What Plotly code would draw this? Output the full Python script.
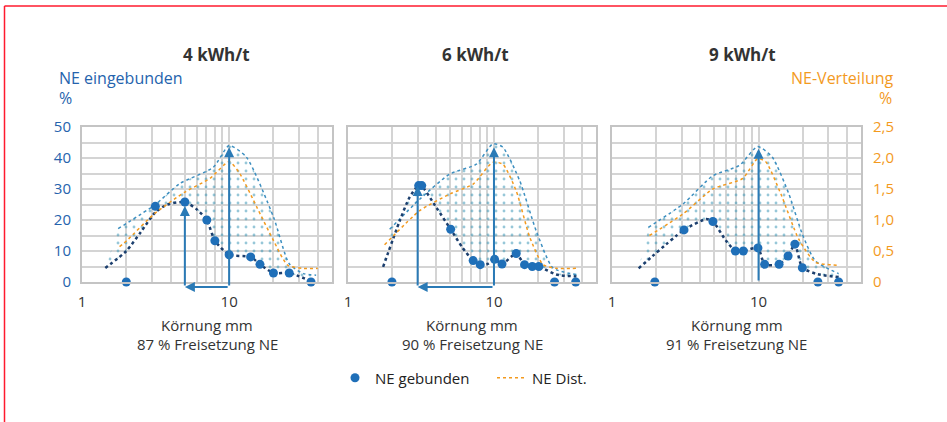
import numpy as np
import plotly.graph_objects as go

# ---------------- data ----------------
panel_titles = ["4 kWh/t", "6 kWh/t", "9 kWh/t"]
release_texts = ["87 % Freisetzung NE", "90 % Freisetzung NE", "91 % Freisetzung NE"]
x_title = "Körnung mm"

# NE gebunden markers (left axis, %)
p1_pts_x = [2.0, 3.15, 5.0, 7.05, 8.0, 10.0, 14.0, 16.2, 20.0, 25.6, 36.0]
p1_pts_y = [0, 24.4, 25.8, 20.0, 13.3, 8.8, 8.1, 5.7, 2.9, 2.9, 0]
p2_pts_x = [2.0, 3.05, 3.2, 5.05, 7.2, 8.05, 10.1, 11.35, 14.2, 16.2, 18.3, 20.3, 26.0, 36.3]
p2_pts_y = [0, 31.1, 31.1, 17.0, 6.9, 5.6, 7.3, 5.8, 9.2, 5.6, 5.0, 5.0, 0, 0]
p3_pts_x = [1.96, 3.1, 4.88, 6.95, 7.87, 9.9, 11.0, 13.8, 15.9, 17.7, 19.9, 25.4, 35.2]
p3_pts_y = [0, 16.8, 19.5, 10.0, 10.0, 11.0, 5.7, 5.7, 8.4, 12.2, 4.6, 0, 0]

# NE gebunden trend curve (lower boundary of the shaded band)
p1_low_x = [1.44, 2.0, 2.5, 3.15, 3.8, 5.0, 6.0, 7.05, 8.0, 10.0, 14.0, 16.2, 20.0, 25.6, 36.0]
p1_low_y = [4.5, 10.0, 16.0, 22.5, 25.0, 25.8, 23.5, 20.0, 13.3, 8.8, 8.1, 5.7, 2.9, 2.9, 0.3]
p2_low_x = [1.74, 2.26, 2.64, 3.1, 4.03, 5.05, 6.1, 7.2, 8.05, 9.0, 10.1, 11.35, 14.2, 16.2, 20.3, 26.7, 36.7]
p2_low_y = [4.9, 19.7, 27.3, 31.4, 24.0, 17.0, 11.0, 6.9, 5.6, 5.8, 7.3, 5.8, 9.2, 5.6, 5.0, 2.4, 1.8]
p3_low_x = [1.52, 3.1, 4.4, 4.88, 6.0, 6.95, 7.87, 9.9, 11.0, 13.8, 15.9, 17.7, 19.9, 25.4, 35.2]
p3_low_y = [4.4, 16.8, 20.3, 19.5, 13.3, 10.0, 10.0, 11.0, 5.7, 5.7, 8.4, 12.2, 4.6, 2.5, 1.6]

# upper boundary of the shaded band (left axis, %)
p1_up_x = [1.76, 3.15, 4.6, 7.8, 10.0, 13.1, 20.0, 25.6, 32.0, 39.0]
p1_up_y = [17.2, 25.0, 31.7, 37.0, 44.0, 40.3, 21.0, 5.9, 2.7, 2.2]
p2_up_x = [1.93, 3.1, 4.97, 7.57, 9.84, 11.5, 15.0, 19.5, 25.4, 36.7]
p2_up_y = [17.0, 26.7, 34.8, 38.0, 44.6, 43.5, 32.7, 16.4, 4.5, 2.4]
p3_up_x = [1.77, 3.06, 4.88, 7.4, 9.85, 12.4, 16.1, 19.9, 24.4, 35.2]
p3_up_y = [17.6, 25.2, 34.3, 37.6, 43.7, 40.3, 28.4, 15.4, 6.8, 2.7]

# NE Dist. (right axis, %)
p1_dist_x = [1.8, 2.02, 3.1, 5.0, 7.4, 10.0, 11.8, 15.4, 20.0, 25.0, 32.0, 40.0]
p1_dist_y = [0.57, 0.67, 1.10, 1.45, 1.67, 1.94, 1.75, 1.21, 0.67, 0.27, 0.22, 0.22]
p2_dist_x = [1.78, 3.1, 5.0, 7.2, 9.8, 11.5, 14.2, 17.6, 21.7, 26.7, 36.7]
p2_dist_y = [0.60, 1.15, 1.42, 1.58, 1.93, 1.90, 1.47, 0.72, 0.28, 0.22, 0.22]
p3_dist_x = [1.8, 3.06, 4.88, 7.8, 9.85, 11.2, 14.2, 18.8, 24.4, 35.2]
p3_dist_y = [0.75, 1.10, 1.50, 1.67, 1.99, 1.94, 1.42, 0.69, 0.32, 0.27]

# arrows: peak of distribution and grain size of maximum bound NE
peak_x = [10, 10, 10]
peak_y = [43.5, 43.5, 43.0]
cut_x = [5.0, 3.0, None]
cut_y = [24.5, 31.0, None]
arrow_base_y = [-1.6, -1.6, 0.0]

left_ticks = [0, 5, 10, 15, 20, 25, 30, 35, 40, 45, 50]
right_ticks = [0, 0.5, 1.0, 1.5, 2.0, 2.5]
right_tick_text = ["0", "0,5", "1,0", "1,5", "2,0", "2,5"]
x_grid = [1, 2, 3, 4, 5, 6, 7, 8, 9, 10, 20, 30, 40, 50]
Y_RANGE = [0, 50]

pts = [(p1_pts_x, p1_pts_y), (p2_pts_x, p2_pts_y), (p3_pts_x, p3_pts_y)]
lows = [(p1_low_x, p1_low_y), (p2_low_x, p2_low_y), (p3_low_x, p3_low_y)]
ups = [(p1_up_x, p1_up_y), (p2_up_x, p2_up_y), (p3_up_x, p3_up_y)]
dists = [(p1_dist_x, p1_dist_y), (p2_dist_x, p2_dist_y), (p3_dist_x, p3_dist_y)]

# ---------------- style ----------------
FONT = "Open Sans"
BLUE_TXT = "#2563ad"
ORANGE = "#f39a1e"
MARK = "#1f6fb8"
DARK = "#1c3f6e"
ENV = "#3d8fc0"
DOTS = "#2f8fb2"
ARROW = "#2a7ab6"
GRID = "#d4d4d4"
FRAME = "#c4c4c4"

W, H = 947, 422
ML, MR, MT, MB = 82, 86, 127, 140
PW = W - ML - MR
PH = H - MT - MB
px_dom = [(82, 332), (348, 596), (612, 861)]
domains = [[(a - ML) / PW, (b - ML) / PW] for a, b in px_dom]


def px2x(p):
    return (p - ML) / PW


def px2y(p):
    return (H - MB - p) / PH


def data2dom_y(v):
    return (v - Y_RANGE[0]) / (Y_RANGE[1] - Y_RANGE[0])


fig = go.Figure()

for i in range(3):
    xa = "x" if i == 0 else f"x{i+1}"
    ya = "y" if i == 0 else f"y{i+1}"
    yr = f"y{i+4}"
    ux, uy = ups[i]
    lx, ly = lows[i]
    # shaded band
    fig.add_trace(go.Scatter(
        x=list(ux) + list(lx)[::-1], y=list(uy) + list(ly)[::-1],
        xaxis=xa, yaxis=ya, mode="lines", fill="toself",
        line=dict(width=0, shape="spline", smoothing=0.6),
        fillcolor="rgba(255,255,255,0)",
        fillpattern=dict(shape=".", fgcolor=DOTS, bgcolor="rgba(255,255,255,0)",
                         size=8, solidity=0.1),
        showlegend=False, hoverinfo="skip"))
    # upper envelope
    fig.add_trace(go.Scatter(
        x=ux, y=uy, xaxis=xa, yaxis=ya, mode="lines",
        line=dict(color=ENV, width=1.5, dash="dot", shape="spline", smoothing=0.6),
        showlegend=False, hoverinfo="skip"))
    # NE Dist. (right axis)
    dx, dy = dists[i]
    fig.add_trace(go.Scatter(
        x=dx, y=dy, xaxis=xa, yaxis=yr, mode="lines", name="NE Dist.",
        line=dict(color=ORANGE, width=1.5, dash="dot", shape="spline", smoothing=0.6),
        showlegend=(i == 0), legendrank=2))
    # NE gebunden trend curve
    fig.add_trace(go.Scatter(
        x=lx, y=ly, xaxis=xa, yaxis=ya, mode="lines",
        line=dict(color=DARK, width=2.5, dash="dot", shape="spline", smoothing=0.6),
        showlegend=False, hoverinfo="skip"))
    # markers
    mx, my = pts[i]
    fig.add_trace(go.Scatter(
        x=mx, y=my, xaxis=xa, yaxis=ya, mode="markers", name="NE gebunden",
        marker=dict(color=MARK, size=9), cliponaxis=False,
        showlegend=(i == 0), legendrank=1))

layout = dict(
    width=W, height=H, autosize=False,
    margin=dict(l=ML, r=MR, t=MT, b=MB, pad=0),
    paper_bgcolor="white", plot_bgcolor="white",
    font=dict(family=FONT, size=15, color="#333333"),
    showlegend=True,
    legend=dict(orientation="h", x=px2x(335), xanchor="left", y=px2y(378), yanchor="middle",
                font=dict(family=FONT, size=15, color="#222222"),
                traceorder="normal", itemwidth=30, bgcolor="rgba(0,0,0,0)",
                entrywidth=112, entrywidthmode="pixels"),
)

xtext = ["1" if v == 1 else ("10" if v == 10 else "") for v in x_grid]
for i in range(3):
    k = "" if i == 0 else str(i + 1)
    layout["xaxis" + k] = dict(
        domain=domains[i], anchor="y" + k, type="log", range=[0, np.log10(50)],
        tickmode="array", tickvals=x_grid, ticktext=xtext,
        showgrid=True, gridcolor=GRID, gridwidth=1.5,
        showline=True, mirror=True, linecolor=FRAME, linewidth=2,
        ticks="outside", ticklen=5, tickcolor="rgba(0,0,0,0)",
        tickfont=dict(size=15, color="#333333"), zeroline=False, fixedrange=True)
    layout["yaxis" + k] = dict(
        domain=[0, 1], anchor="x" + k, range=Y_RANGE,
        tickmode="array", tickvals=left_ticks,
        ticktext=[(str(v) if v % 10 == 0 else "") for v in left_ticks] if i == 0 else [""] * len(left_ticks),
        showticklabels=(i == 0),
        showgrid=True, gridcolor=GRID, gridwidth=1.5,
        showline=True, mirror=True, linecolor=FRAME, linewidth=2,
        ticks="outside", ticklen=6, tickcolor="rgba(0,0,0,0)",
        tickfont=dict(size=15, color=BLUE_TXT), zeroline=False, fixedrange=True)
    layout["yaxis" + str(i + 4)] = dict(
        overlaying="y" + k, anchor="x" + k, side="right", range=[0, 2.5],
        tickmode="array", tickvals=right_ticks, ticktext=right_tick_text,
        showticklabels=(i == 2), showgrid=False, showline=False, zeroline=False,
        ticks="outside", ticklen=8, tickcolor="rgba(0,0,0,0)",
        tickfont=dict(size=15, color=ORANGE), fixedrange=True)

annotations = []
title_px = [216, 475, 742]
arrow_common = dict(text="", showarrow=True, arrowhead=2, arrowsize=1, arrowwidth=2,
                    arrowcolor=ARROW, standoff=0, startstandoff=0)
for i in range(3):
    annotations.append(dict(xref="paper", yref="paper", x=px2x(title_px[i]), y=px2y(55),
                            text=f"<b>{panel_titles[i]}</b>", showarrow=False,
                            font=dict(size=17, color="#333333"), xanchor="center", yanchor="middle"))
    cx = (domains[i][0] + domains[i][1]) / 2
    annotations.append(dict(xref="paper", yref="paper", x=cx, y=px2y(325), text=x_title,
                            showarrow=False, font=dict(size=15, color="#333333"),
                            xanchor="center", yanchor="middle"))
    annotations.append(dict(xref="paper", yref="paper", x=cx, y=px2y(344), text=release_texts[i],
                            showarrow=False, font=dict(size=15, color="#333333"),
                            xanchor="center", yanchor="middle"))
    xa = "x" if i == 0 else f"x{i+1}"
    ydom = ("y" if i == 0 else f"y{i+1}") + " domain"
    base_d = data2dom_y(arrow_base_y[i])
    # vertical arrow to the peak
    annotations.append(dict(xref=xa, yref=ydom, axref=xa, ayref=ydom,
                            x=np.log10(peak_x[i]), y=data2dom_y(peak_y[i]),
                            ax=np.log10(peak_x[i]), ay=base_d, **arrow_common))
    if cut_x[i] is not None:
        annotations.append(dict(xref=xa, yref=ydom, axref=xa, ayref=ydom,
                                x=np.log10(cut_x[i]), y=base_d,
                                ax=np.log10(peak_x[i]), ay=base_d, **arrow_common))
        annotations.append(dict(xref=xa, yref=ydom, axref=xa, ayref=ydom,
                                x=np.log10(cut_x[i]), y=data2dom_y(cut_y[i]),
                                ax=np.log10(cut_x[i]), ay=base_d, **arrow_common))

annotations += [
    dict(xref="paper", yref="paper", x=px2x(57), y=px2y(78), text="NE eingebunden",
         showarrow=False, xanchor="left", yanchor="middle", font=dict(size=16, color=BLUE_TXT)),
    dict(xref="paper", yref="paper", x=px2x(57), y=px2y(98), text="%",
         showarrow=False, xanchor="left", yanchor="middle", font=dict(size=16, color=BLUE_TXT)),
    dict(xref="paper", yref="paper", x=px2x(896), y=px2y(78), text="NE-Verteilung",
         showarrow=False, xanchor="right", yanchor="middle", font=dict(size=16, color=ORANGE)),
    dict(xref="paper", yref="paper", x=px2x(894), y=px2y(98), text="%",
         showarrow=False, xanchor="right", yanchor="middle", font=dict(size=16, color=ORANGE)),
]
layout["annotations"] = annotations

layout["shapes"] = [
    dict(type="line", xref="paper", yref="paper", x0=px2x(4.5), x1=px2x(W + 5),
         y0=px2y(6), y1=px2y(6), line=dict(color="#ff1a2e", width=1.5)),
    dict(type="line", xref="paper", yref="paper", x0=px2x(4.5), x1=px2x(4.5),
         y0=px2y(6), y1=px2y(H + 5), line=dict(color="#ff1a2e", width=1.5)),
]

fig.update_layout(**layout)
fig.write_html("out.html")
